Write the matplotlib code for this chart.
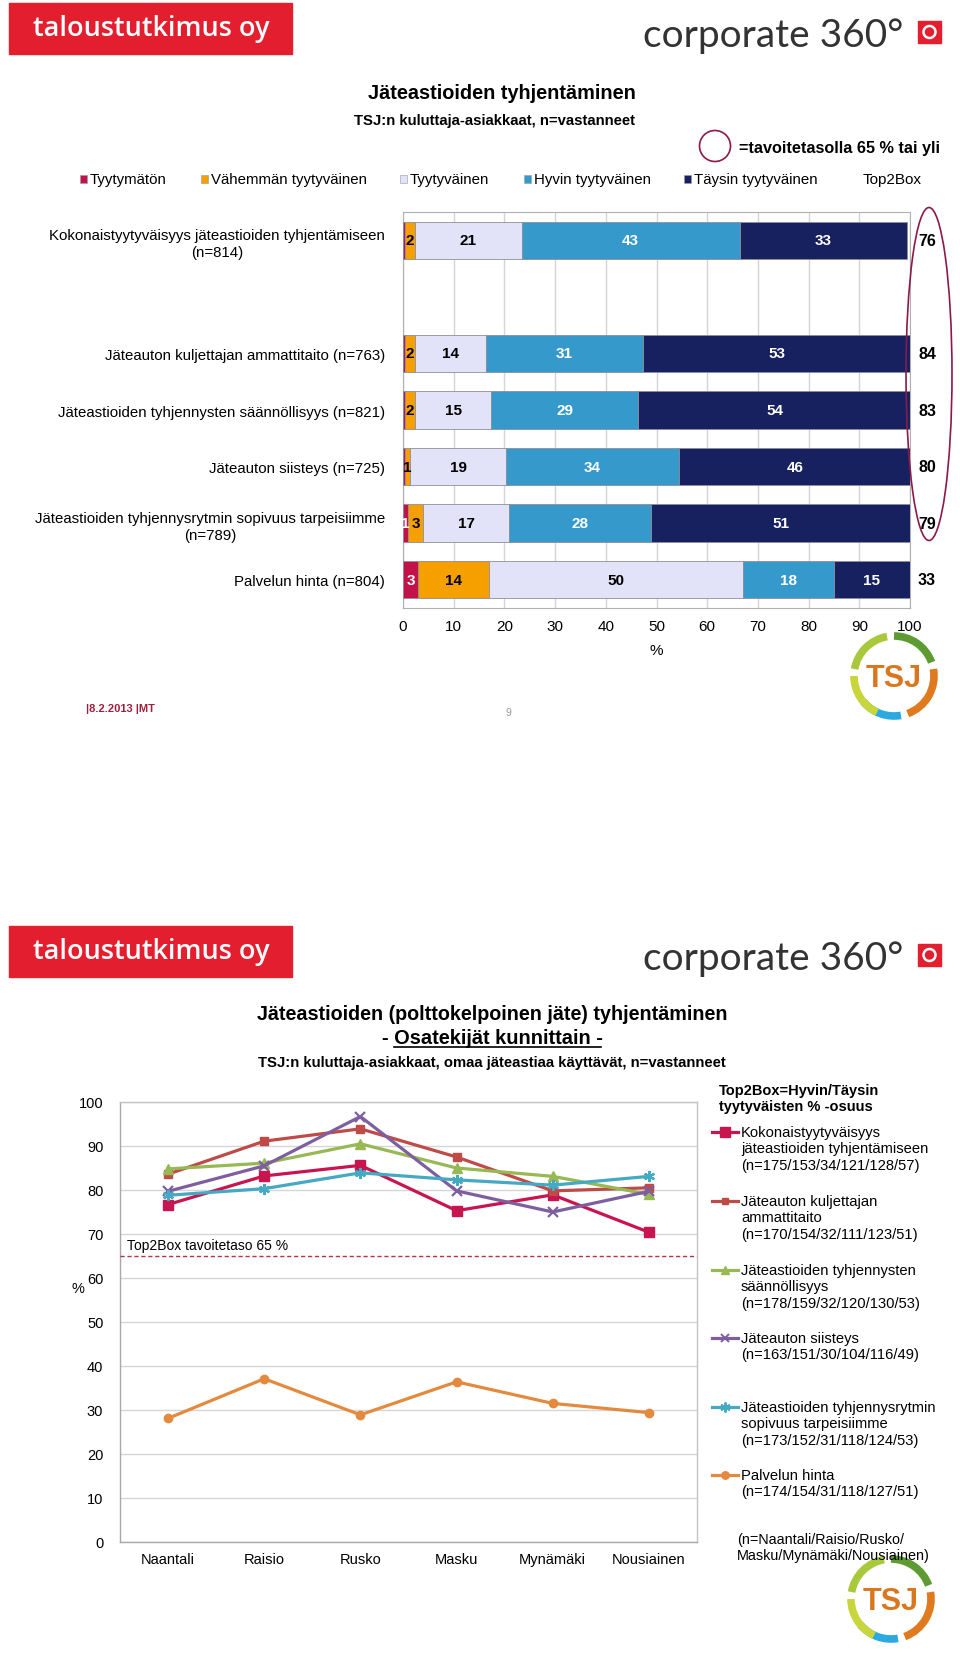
import matplotlib
matplotlib.use('Agg')
import matplotlib.pyplot as plt
from matplotlib.patches import Rectangle, Ellipse, Arc, Circle
from matplotlib.lines import Line2D
import numpy as np

W, H = 960, 1658
NARROW = ['Liberation Sans Narrow', 'Liberation Sans', 'DejaVu Sans']
REG = ['Liberation Sans', 'DejaVu Sans']

# ---------------- data: slide 1 (stacked bars) ----------------
bar_categories = [
    "Kokonaistyytyväisyys jäteastioiden tyhjentämiseen\n(n=814)",
    "Jäteauton kuljettajan ammattitaito (n=763)",
    "Jäteastioiden tyhjennysten säännöllisyys (n=821)",
    "Jäteauton siisteys (n=725)",
    "Jäteastioiden tyhjennysrytmin sopivuus tarpeisiimme\n(n=789)",
    "Palvelun hinta (n=804)",
]
level_names = ["Tyytymätön", "Vähemmän tyytyväinen", "Tyytyväinen",
               "Hyvin tyytyväinen", "Täysin tyytyväinen"]
tyytymaton = [0.4, 0.3, 0.4, 0.4, 1, 3]
vahemman = [2, 2, 2, 1, 3, 14]
tyytyvainen = [21, 14, 15, 19, 17, 50]
hyvin = [43, 31, 29, 34, 28, 18]
taysin = [33, 53, 54, 46, 51, 15]
top2box = [76, 84, 83, 80, 79, 33]
x_ticks = [0, 10, 20, 30, 40, 50, 60, 70, 80, 90, 100]

# ---------------- data: slide 2 (lines) ----------------
municipalities = ["Naantali", "Raisio", "Rusko", "Masku", "Mynämäki", "Nousiainen"]
kokonais = [76.7, 83.2, 85.6, 75.3, 78.9, 70.4]
kuljettaja = [83.6, 91.1, 93.9, 87.5, 79.8, 80.5]
saannollisyys = [84.8, 86.1, 90.5, 85.0, 83.1, 79.0]
siisteys = [79.7, 85.5, 96.7, 79.8, 75.0, 79.7]
tyhjennysrytmi = [78.8, 80.3, 83.9, 82.3, 81.1, 83.1]
hinta = [28.1, 37.1, 28.9, 36.4, 31.5, 29.4]
target_level = 65
line_labels = [
    "Kokonaistyytyväisyys\njäteastioiden tyhjentämiseen\n(n=175/153/34/121/128/57)",
    "Jäteauton kuljettajan\nammattitaito\n(n=170/154/32/111/123/51)",
    "Jäteastioiden tyhjennysten\nsäännöllisyys\n(n=178/159/32/120/130/53)",
    "Jäteauton siisteys\n(n=163/151/30/104/116/49)",
    "Jäteastioiden tyhjennysrytmin\nsopivuus tarpeisiimme\n(n=173/152/31/118/124/53)",
    "Palvelun hinta\n(n=174/154/31/118/127/51)",
]
y_ticks = [0, 10, 20, 30, 40, 50, 60, 70, 80, 90, 100]

# ---------------- styles ----------------
bar_colors = ['#C3124A', '#F6A000', '#E2E2F8', '#3599CC', '#17215F']
bar_text_colors = ['white', 'black', 'black', 'white', 'white']
line_colors = ['#C8144F', '#BE4B48', '#97B853', '#7D5FA0', '#45A9C4', '#E38A3E']
line_markers = ['s', 's', '^', 'x', (6, 2, 0), 'o']
marker_sizes = [7.5, 5.5, 6.5, 7, 8, 6]

fig = plt.figure(figsize=(W / 100, H / 100), dpi=100)
fig.patch.set_facecolor('white')


def add_px_axes(x0, y0, x1, y1):
    return fig.add_axes([x0 / W, 1 - y1 / H, (x1 - x0) / W, (y1 - y0) / H])


# ================= slide 1 chart =================
ax1 = add_px_axes(403, 213, 910, 609)
levels = [tyytymaton, vahemman, tyytyvainen, hyvin, taysin]
ypos = np.array([0, 2, 3, 4, 5, 6])  # gap after first row
left = np.zeros(len(bar_categories))
for vals, col, tcol in zip(levels, bar_colors, bar_text_colors):
    vals = np.array(vals, dtype=float)
    ax1.barh(ypos, vals, left=left, height=0.66, color=col,
             edgecolor='#8E8E9A', linewidth=0.6, zorder=3)
    for y, l, v in zip(ypos, left, vals):
        if v >= 1:
            ax1.text(l + v / 2, y, f"{v:.0f}", ha='center', va='center',
                     color=tcol, fontsize=11, fontweight='bold',
                     family=NARROW, zorder=4)
    left += vals
ax1.set_xlim(0, 100)
ax1.set_ylim(6.5, -0.5)
ax1.set_xticks(x_ticks)
ax1.set_xticklabels([str(t) for t in x_ticks], family=NARROW, fontsize=11)
ax1.tick_params(axis='x', length=0, pad=8)
ax1.set_yticks(ypos)
ax1.set_yticklabels(bar_categories, family=NARROW, fontsize=10.8,
                    ha='right', multialignment='center', linespacing=1.3)
ax1.tick_params(axis='y', length=0, pad=13)
ax1.grid(axis='x', color='#D4D4D4', linewidth=1, zorder=0)
ax1.set_axisbelow(True)
for s in ax1.spines.values():
    s.set_color('#B0B0B0')
ax1.set_xlabel('%', family=NARROW, fontsize=11, labelpad=7)

# ================= slide 2 chart =================
ax2 = add_px_axes(120, 1103, 697, 1543)
series = [kokonais, kuljettaja, saannollisyys, siisteys, tyhjennysrytmi, hinta]
xs = np.arange(len(municipalities))
for vals, col, mk, ms in zip(series, line_colors, line_markers, marker_sizes):
    ax2.plot(xs, vals, color=col, linewidth=2.3, marker=mk, markersize=ms,
             markeredgewidth=1.6 if mk in ('x', (6, 2, 0)) else 1,
             markeredgecolor=col, markerfacecolor=col, zorder=4)
ax2.axhline(target_level, color='#B5343F', linestyle=(0, (3, 2)),
            linewidth=1, zorder=3)
ax2.text(0.0 - 0.43, target_level + 2.4, "Top2Box tavoitetaso 65 %",
         family=NARROW, fontsize=10, ha='left', va='center')
ax2.set_xlim(-0.5, 5.5)
ax2.set_ylim(0, 100)
ax2.set_yticks(y_ticks)
ax2.set_yticklabels([str(t) for t in y_ticks], family=REG, fontsize=10.5)
ax2.set_xticks(xs)
ax2.set_xticklabels(municipalities, family=REG, fontsize=10.5)
ax2.tick_params(axis='y', length=0, pad=12)
ax2.tick_params(axis='x', length=0, pad=7)
ax2.grid(axis='y', color='#D6D6D6', linewidth=1, zorder=0)
ax2.set_axisbelow(True)
for s in ax2.spines.values():
    s.set_color('#C4C4C4')
    s.set_linewidth(1)
ax2.spines['left'].set_color('#A8A8A8')
ax2.spines['bottom'].set_color('#A8A8A8')

# ================= overlay (logos, titles, legends) =================
bg = fig.add_axes([0, 0, 1, 1])
bg.set_xlim(0, W)
bg.set_ylim(H, 0)
bg.axis('off')
bg.patch.set_alpha(0)


def draw_header(off):
    bg.add_patch(Rectangle((9, 4 + off), 283, 51, color='#E31E2E', zorder=1))
    bg.text(151, 29 + off, "taloustutkimus oy", color='white', fontsize=19.5,
            family=['Open Sans', 'DejaVu Sans'], fontweight='semibold',
            ha='center', va='center', zorder=2)
    bg.text(773, 36 + off, "corporate 360°", color='#333333', fontsize=28,
            family=['Lato', 'Open Sans', 'DejaVu Sans'], fontweight='normal',
            ha='center', va='center')
    bg.add_patch(Rectangle((918, 22 + off), 23, 22, color='#E31E2E'))
    bg.add_patch(Circle((929.5, 33 + off), 6, facecolor='none',
                        edgecolor='white', linewidth=1.8))


def draw_tsj(cx, cy):
    r = 40
    pieces = [(100, 170, '#A9C83B'), (20, 90, '#5F9B33'), (-70, 10, '#E07A1E'),
              (-140, -80, '#2BA9E0'), (180, 245, '#C9D63B')]
    for a1, a2, c in pieces:
        bg.add_patch(Arc((cx, cy), 2 * r, 2 * r, theta1=-a2, theta2=-a1,
                         color=c, linewidth=5.5))
    bg.text(cx, cy + 2, "TSJ", color='#D9771E', fontsize=22, fontweight='bold',
            family=NARROW, ha='center', va='center')


draw_header(0)
draw_header(923)

# slide 1 titles
bg.text(502, 93, "Jäteastioiden tyhjentäminen", family=NARROW, fontsize=14.3,
        fontweight='bold', ha='center', va='center')
bg.text(495, 121, "TSJ:n kuluttaja-asiakkaat, n=vastanneet", family=NARROW,
        fontsize=10.7, fontweight='bold', ha='center', va='center')
bg.add_patch(Circle((715, 147), 15.5, facecolor='none', edgecolor='#8B1A4A',
                    linewidth=1.2))
bg.text(739, 148, "=tavoitetasolla 65 % tai yli", family=NARROW, fontsize=11.7,
        fontweight='bold', ha='left', va='center')

# slide 1 legend
legend_sq_x = [80, 201, 400, 524, 684]
for lx, name, col in zip(legend_sq_x, level_names, bar_colors):
    bg.add_patch(Rectangle((lx, 176), 7, 8, facecolor=col, edgecolor='#9A9AA8',
                           linewidth=0.4))
    bg.text(lx + 10, 180, name, family=NARROW, fontsize=10.8, ha='left', va='center')
bg.text(892, 180, "Top2Box", family=NARROW, fontsize=11, ha='center', va='center')

# Top2Box values
for y, v in zip(ypos, top2box):
    yy = ax1.transData.transform((0, y))[1]
    bg.text(927, H - yy, str(v), family=NARROW, fontsize=11.5, fontweight='bold',
            ha='center', va='center')
bg.add_patch(Ellipse((929, 375), 46, 333, facecolor='none', edgecolor='#8B1A4A',
                     linewidth=1.2))

# slide 1 footer
bg.text(86, 709, "|8.2.2013 |MT", color='#A0203C', fontsize=8,
        family=REG, fontweight='bold', ha='left', va='center')
bg.text(508, 713, "9", color='#999999', fontsize=7.5, family=REG,
        ha='center', va='center')
draw_tsj(894, 677)

# slide 2 titles
bg.text(492, 1015, "Jäteastioiden (polttokelpoinen jäte) tyhjentäminen",
        family=NARROW, fontsize=14.2, fontweight='bold', ha='center', va='center')
t2 = bg.text(492, 1038, "- Osatekijät kunnittain -", family=NARROW, fontsize=14.4,
             fontweight='bold', ha='center', va='center')
bg.text(492, 1063, "TSJ:n kuluttaja-asiakkaat, omaa jäteastiaa käyttävät, n=vastanneet",
        family=NARROW, fontsize=10.7, fontweight='bold', ha='center', va='center')

fig.canvas.draw()
rend = fig.canvas.get_renderer()
full = t2.get_window_extent(rend)
tmp = bg.text(0, 0, "- ", family=NARROW, fontsize=14.4, fontweight='bold')
w_pre = tmp.get_window_extent(rend).width
tmp.remove()
tmp = bg.text(0, 0, "Osatekijät kunnittain_", family=NARROW, fontsize=14.4, fontweight='bold')
w_mid = tmp.get_window_extent(rend).width
tmp.remove()
u0 = full.x0 + w_pre
bg.add_line(Line2D([u0, u0 + w_mid], [1048, 1048], color='black', linewidth=1.2))

# y label
bg.text(78, 1289, "%", family=REG, fontsize=10.5, ha='center', va='center')

# slide 2 legend
bg.text(719, 1084, "Top2Box=Hyvin/Täysin\ntyytyväisten % -osuus", family=REG,
        fontsize=10.5, fontweight='bold', ha='left', va='top', linespacing=1.15)
entry_y = [1133, 1202, 1271, 1339, 1408, 1476]
for ey, lab, col, mk, ms in zip(entry_y, line_labels, line_colors, line_markers,
                                 marker_sizes):
    bg.add_line(Line2D([712, 738], [ey, ey], color=col, linewidth=2.3))
    bg.add_line(Line2D([725], [ey], color=col, marker=mk, markersize=ms * 0.9,
                       markeredgecolor=col, markerfacecolor=col,
                       markeredgewidth=1.4 if mk in ('x', (6, 2, 0)) else 1))
    bg.text(741, ey - 7, lab, family=REG, fontsize=10.6, ha='left', va='top',
            linespacing=1.22)
bg.text(737, 1533, "(n=Naantali/Raisio/Rusko/\nMasku/Mynämäki/Nousiainen)",
        family=REG, fontsize=10.4, ha='left', va='top', linespacing=1.2)
draw_tsj(891, 1600)

fig.savefig('out.png', dpi=100, facecolor='white')
